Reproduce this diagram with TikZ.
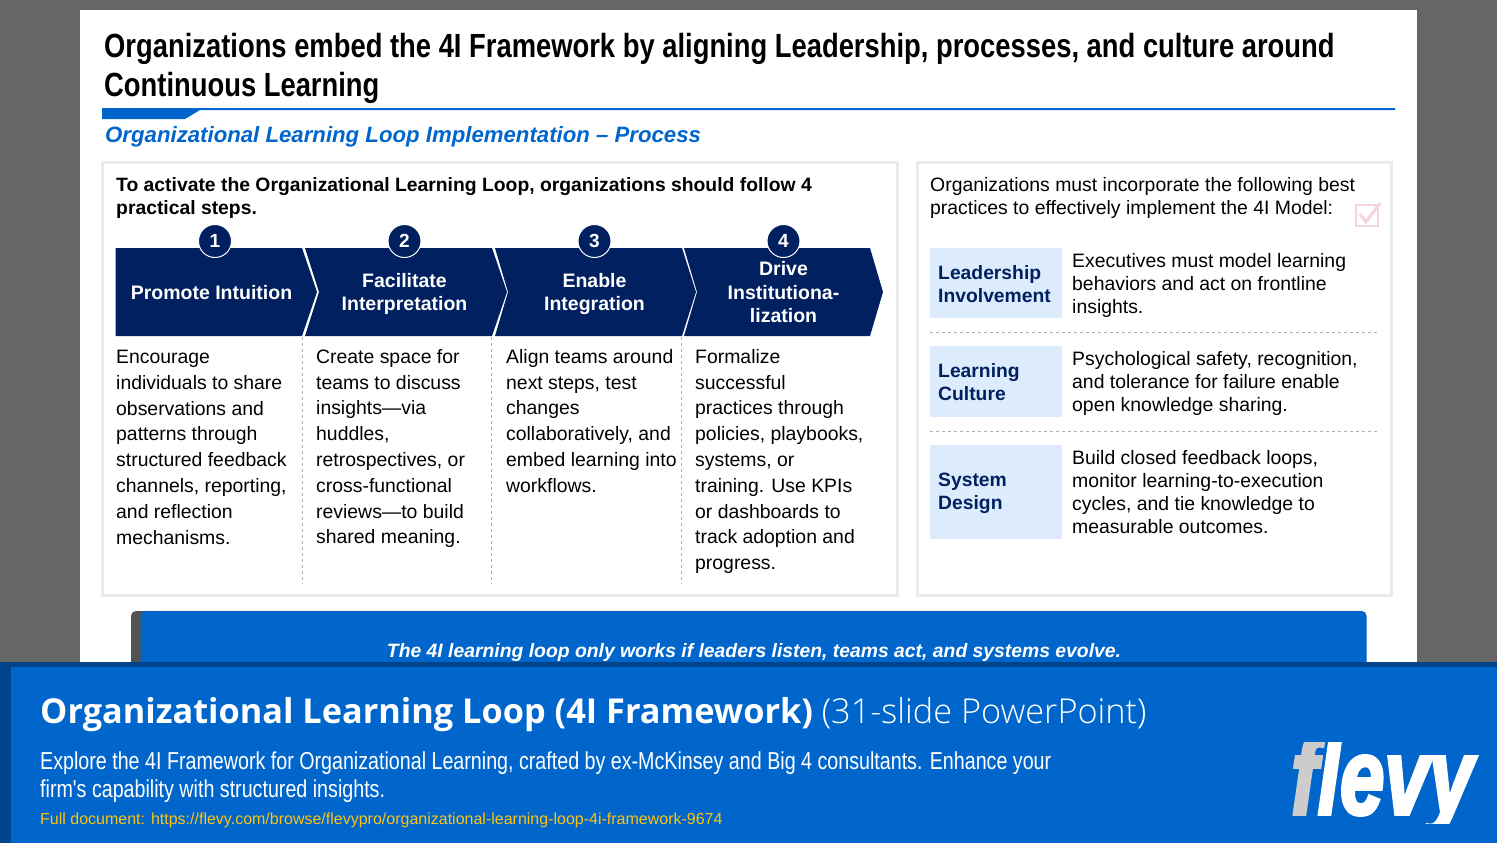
\documentclass[tikz,border=0pt]{standalone}
\usepackage{fontspec}
\setmainfont{Liberation Sans}
\newfontfamily\narrowfont[FakeStretch=0.817]{Liberation Sans}
\newfontfamily\descfont[FakeStretch=0.803]{Liberation Sans}
\newfontfamily\footfont{Open Sans}
\newfontfamily\footlight{Open Sans Light}
\newfontfamily\logofont[BoldItalicFeatures={FakeBold=3.5}]{Liberation Sans}
\definecolor{flevyblue}{HTML}{0066CC}
\definecolor{flevydark}{HTML}{00448C}
\definecolor{stepnavy}{HTML}{002060}
\definecolor{sideblue}{HTML}{DCECFC}
\definecolor{panelgray}{HTML}{EBEBEB}
\definecolor{checkpink}{HTML}{F4D5DB}
\definecolor{linkamber}{HTML}{FFC20E}
\tikzset{
  bodytext/.style={anchor=north west,inner sep=0pt,align=left,font=\fontsize{19.4}{25.8}\selectfont},
  sidetext/.style={anchor=north west,inner sep=0pt,align=left,font=\fontsize{19.4}{23}\selectfont},
  sidehead/.style={anchor=west,inner sep=0pt,align=left,text=stepnavy,font=\fontsize{19.3}{23}\selectfont\bfseries},
  sidebox/.style={fill=sideblue},
  steptext/.style={inner sep=0pt,align=center,text=white,font=\fontsize{19.5}{23.5}\selectfont\bfseries},
  stepnum/.style={circle,fill=stepnavy,draw=white,line width=1pt,minimum size=33pt,inner sep=0pt,text=white,font=\fontsize{19}{19}\selectfont\bfseries},
  stepshape/.style={fill=stepnavy},
  panel/.style={fill=white,draw=panelgray,line width=3pt},
  divider/.style={draw=black!30,dashed,line width=0.7pt}
}
\begin{document}
\begin{tikzpicture}[x=1pt,y=-1pt]
  \useasboundingbox (0,0) rectangle (1497,843);
  % page
  \fill[black!60] (0,0) rectangle (1497,843);
  \fill[white] (80,10) rectangle (1417,670);
  % title
  \node[anchor=north west,inner sep=0pt,align=left,font=\narrowfont\fontsize{33.5}{39.5}\selectfont\bfseries] (title) at (104,33)
    {Organizations embed the 4I Framework by aligning Leadership, processes, and culture around\\Continuous Learning};
  \fill[flevyblue] (102,108) -- (1395,108) -- (1395,110) -- (200,110) -- (185,119) -- (102,119) -- cycle;
  \node[anchor=north west,inner sep=0pt,text=flevyblue,font=\fontsize{22.2}{26}\selectfont\bfseries\itshape] (subtitle) at (105,126.5)
    {Organizational Learning Loop Implementation -- Process};
  % panels
  \draw[panel] (102,162) rectangle (897,595);
  \draw[panel] (917,162) rectangle (1391,595);
  \node[anchor=north west,inner sep=0pt,align=left,font=\fontsize{19.33}{23}\selectfont\bfseries] (intro) at (116,177)
    {To activate the Organizational Learning Loop, organizations should follow 4\\practical steps.};
  % steps
  \fill[stepshape] (115.5,248) -- (302,248) -- (317,292) -- (302,336) -- (115.5,336) -- cycle;
  \fill[stepshape] (305,248) -- (492,248) -- (507,292) -- (492,336) -- (305,336) -- (319,292) -- cycle;
  \fill[stepshape] (495,248) -- (682,248) -- (696,292) -- (682,336) -- (495,336) -- (508,292) -- cycle;
  \fill[stepshape] (684,248) -- (870,248) -- (883,292) -- (870,336) -- (684,336) -- (697,292) -- cycle;
  \node[steptext] (promote) at (211.5,293) {Promote Intuition};
  \node[steptext] (facilitate) at (404.5,294) {Facilitate\\Interpretation};
  \node[steptext] (enable) at (594.5,294) {Enable\\Integration};
  \node[steptext] (drive) at (783.5,292.5) {Drive\\Institutiona-\\lization};
  \node[stepnum] (num1) at (215,241) {1};
  \node[stepnum] (num2) at (404.5,241) {2};
  \node[stepnum] (num3) at (594.5,241) {3};
  \node[stepnum] (num4) at (783.5,241) {4};
  % columns
  \node[bodytext] (col1) at (116,350) {Encourage\\individuals to share\\observations and\\patterns through\\structured feedback\\channels, reporting,\\and reflection\\mechanisms.};
  \node[bodytext] (col2) at (316,349) {Create space for\\teams to discuss\\insights---via\\huddles,\\retrospectives, or\\cross-functional\\reviews---to build\\shared meaning.};
  \node[bodytext] (col3) at (506,349) {Align teams around\\next steps, test\\changes\\collaboratively, and\\embed learning into\\workflows.};
  \node[bodytext] (col4) at (695,349) {Formalize\\successful\\practices through\\policies, playbooks,\\systems, or\\training. Use KPIs\\or dashboards to\\track adoption and\\progress.};
  \draw[divider] (302.5,337) -- (302.5,584);
  \draw[divider] (491.5,337) -- (491.5,584);
  \draw[divider] (681.5,337) -- (681.5,584);
  % right panel
  \node[sidetext] (practices) at (930,177) {Organizations must incorporate the following best\\practices to effectively implement the 4I Model:};
  \draw[checkpink,line width=2.5pt] (1356,205) rectangle (1378,226);
  \draw[checkpink,line width=3pt] (1360,214) -- (1366,222) -- (1380,203);
  \fill[sidebox] (930,248) rectangle (1062,318);
  \fill[sidebox] (930,346) rectangle (1062,417);
  \fill[sidebox] (930,445) rectangle (1062,539);
  \node[sidehead] (leadership) at (938,284) {Leadership\\Involvement};
  \node[sidehead] (culture) at (938,382) {Learning\\Culture};
  \node[sidehead] (system) at (938,493.5) {System\\Design};
  \node[sidetext] (leadtext) at (1072,253) {Executives must model learning\\behaviors and act on frontline\\insights.};
  \node[sidetext] (culttext) at (1072,351) {Psychological safety, recognition,\\and tolerance for failure enable\\open knowledge sharing.};
  \node[sidetext] (systext) at (1072,450) {Build closed feedback loops,\\monitor learning-to-execution\\cycles, and tie knowledge to\\measurable outcomes.};
  \draw[divider] (930,332) -- (1378,332);
  \draw[divider] (930,431) -- (1378,431);
  % banner
  \fill[black!68,rounded corners=5pt] (131,611) rectangle (160,670);
  \draw[fill=flevyblue,draw=black!70,densely dotted,rounded corners=5pt] (140.5,611) rectangle (1366.5,670);
  \node[inner sep=0pt,text=white,font=\fontsize{19.34}{23}\selectfont\bfseries\itshape] (banner) at (754,652)
    {The 4I learning loop only works if leaders listen, teams act, and systems evolve.};
  % footer
  \fill[flevydark] (0,662) rectangle (1497,843);
  \fill[flevyblue] (11,667) rectangle (1497,843);
  \node[anchor=base west,inner sep=0pt,text=white,font=\footfont\fontsize{34.3}{40}\selectfont] (foothead) at (40,723.5)
    {\textbf{Organizational Learning Loop (4I Framework)} {\footlight (31-slide PowerPoint)}};
  \node[anchor=north west,inner sep=0pt,align=left,text=white,font=\descfont\fontsize{24.5}{28}\selectfont] (footdesc) at (40,752)
    {Explore the 4I Framework for Organizational Learning, crafted by ex-McKinsey and Big 4 consultants. Enhance your\\firm's capability with structured insights.};
  \node[anchor=north west,inner sep=0pt,text=linkamber,font=\fontsize{16}{18}\selectfont] (footlink) at (40,813)
    {Full document: https://flevy.com/browse/flevypro/organizational-learning-loop-4i-framework-9674};
  % logo
  \begin{scope}
    \clip (1280,742) rectangle (1497,823);
    \node[anchor=base west,inner sep=0pt,font=\logofont\fontsize{108}{108}\selectfont\bfseries\itshape,xscale=0.74,transform shape] (logo) at (1291,814)
      {\textcolor{black!20}{f}\textcolor{white}{levy}};
  \end{scope}
\end{tikzpicture}
\end{document}
